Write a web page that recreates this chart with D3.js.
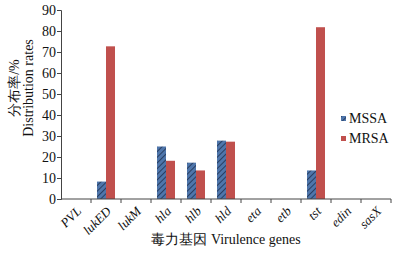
<!DOCTYPE html>
<html>
<head>
<meta charset="utf-8">
<script src="https://cdn.jsdelivr.net/npm/d3@7"></script>
<style>
  body { margin: 0; background: #fff; }
  svg { display: block; }
  svg text { font-family: "Liberation Serif", "Times New Roman", serif; fill: #111; }
</style>
</head>
<body>
<div id="chart"></div>
<script>
const genes = ["PVL", "lukED", "lukM", "hla", "hlb", "hld", "eta", "etb", "tst", "edin", "sasX"];
const mssa = [0, 8.3, 0, 25.0, 17.3, 27.8, 0, 0, 13.6, 0, 0];
const mrsa = [0, 72.7, 0, 18.2, 13.6, 27.3, 0, 0, 81.8, 0, 0];
const yTicks = [0, 10, 20, 30, 40, 50, 60, 70, 80, 90];
const seriesNames = ["MSSA", "MRSA"];

const width = 404;
const height = 259;
const margin = { top: 10, right: 13, bottom: 60, left: 61 };
const innerWidth = width - margin.left - margin.right;
const innerHeight = height - margin.top - margin.bottom;

const svg = d3.select("#chart")
  .append("svg")
  .attr("width", width)
  .attr("height", height);

// hatch for MSSA
const pat = svg.append("defs")
  .append("pattern")
  .attr("id", "hatch")
  .attr("patternUnits", "userSpaceOnUse")
  .attr("width", 4)
  .attr("height", 4)
  .attr("patternTransform", "rotate(45)");
pat.append("rect").attr("width", 4).attr("height", 4).attr("fill", "#4f76ab");
pat.append("line")
  .attr("x1", 0).attr("y1", 0).attr("x2", 0).attr("y2", 4)
  .attr("stroke", "#1d2f4f").attr("stroke-width", 1.6);

const g = svg.append("g").attr("transform", `translate(${margin.left},${margin.top})`);

const x = d3.scaleBand().domain(genes).range([0, innerWidth]).padding(0);
const xSub = d3.scaleBand().domain(seriesNames).range([6, x.bandwidth() - 6]);
const y = d3.scaleLinear().domain([0, 90]).range([innerHeight, 0]);

// bars
const rows = genes.map((gname, i) => ({ gene: gname, MSSA: mssa[i], MRSA: mrsa[i] }));
const fills = { MSSA: "url(#hatch)", MRSA: "#c0504d" };

g.append("g")
  .selectAll("g")
  .data(rows)
  .join("g")
  .attr("transform", d => `translate(${x(d.gene)},0)`)
  .selectAll("rect")
  .data(d => seriesNames.map(s => ({ s, v: d[s] })).filter(e => e.v > 0))
  .join("rect")
  .attr("x", d => xSub(d.s))
  .attr("width", xSub.bandwidth())
  .attr("y", d => y(d.v))
  .attr("height", d => innerHeight - y(d.v))
  .attr("fill", d => fills[d.s]);

// y axis
const yAxis = g.append("g")
  .call(d3.axisLeft(y).tickValues(yTicks).tickSize(4).tickPadding(1));
yAxis.selectAll("text").style("font-size", "14px").style("font-family", "'Liberation Serif', serif");
yAxis.select(".domain").attr("stroke", "#444");
yAxis.selectAll(".tick line").attr("stroke", "#444");

// x axis, ticks on category boundaries
const xAxis = g.append("g").attr("transform", `translate(0,${innerHeight})`);
xAxis.append("line")
  .attr("x1", 0).attr("x2", innerWidth)
  .attr("stroke", "#444");
xAxis.selectAll("line.tk")
  .data(genes)
  .join("line")
  .attr("class", "tk")
  .attr("x1", d => x(d) + x.bandwidth())
  .attr("x2", d => x(d) + x.bandwidth())
  .attr("y1", 0).attr("y2", 4)
  .attr("stroke", "#444");
xAxis.selectAll("text")
  .data(genes)
  .join("text")
  .attr("transform", d => `translate(${x(d) + x.bandwidth() / 2 + 6},${13}) rotate(-45)`)
  .attr("text-anchor", "end")
  .style("font-size", "13px")
  .style("font-style", "italic")
  .text(d => d);

// x title
svg.append("text")
  .attr("x", 226)
  .attr("y", 244)
  .attr("text-anchor", "middle")
  .style("font-size", "14px")
  .text("毒力基因  Virulence genes");

// y title
const yt = svg.append("text")
  .attr("transform", `translate(0,88) rotate(-90)`)
  .attr("text-anchor", "middle")
  .style("font-size", "14px");
yt.append("tspan").attr("x", 0).attr("y", 19).text("分布率/%");
yt.append("tspan").attr("x", 0).attr("y", 33).text("Distribution rates");

// legend
const legend = svg.append("g").attr("transform", "translate(341,116)");
const li = legend.selectAll("g")
  .data(seriesNames)
  .join("g")
  .attr("transform", (d, i) => `translate(0,${i * 20})`);
li.append("rect")
  .attr("width", 5).attr("height", 5)
  .attr("fill", d => fills[d]);
li.append("text")
  .attr("x", 8).attr("y", 7)
  .style("font-size", "14px")
  .text(d => d);
</script>
</body>
</html>
